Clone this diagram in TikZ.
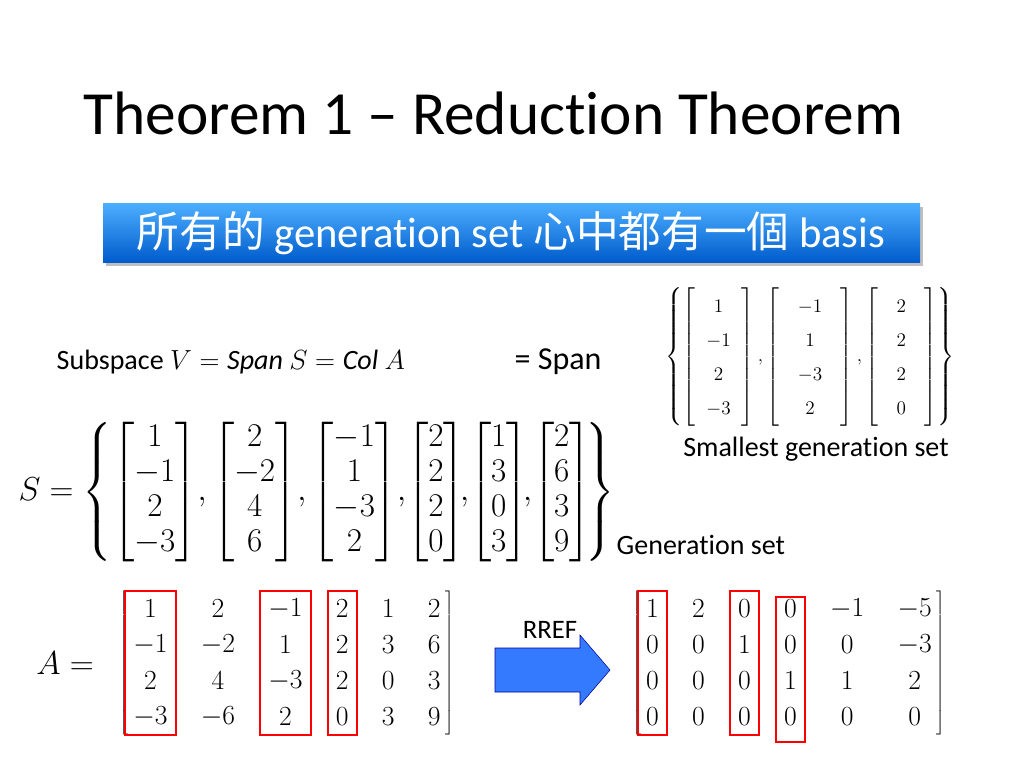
\documentclass[tikz,border=0pt]{standalone}
\usepackage{amsmath}
\usepackage{fontspec}
\setmainfont{Carlito}[Ligatures=NoCommon]
\newfontfamily\cjk{Noto Sans CJK TC}
\usetikzlibrary{matrix,fit}
\newcommand\padent[1]{\hspace{14pt}#1\hspace{14pt}}
\tikzset{
  redbox/.style={draw=red,line width=1.6pt,inner ysep=0pt,inner xsep=5pt},
  mat/.style={matrix of math nodes,left delimiter={[},right delimiter={]},
    nodes={minimum height=27pt,anchor=center,font=\fontsize{20}{22}\selectfont},
    column sep=23pt,inner sep=1pt}
}
\begin{document}
\begin{tikzpicture}[x=0.75pt,y=-0.75pt]
\useasboundingbox[fill=white] (0,0) rectangle (1024,768);
% title
\node[anchor=west,font=\fontsize{46}{50}\selectfont] (title) at (79,113) {Theorem 1 -- Reduction Theorem};
% banner
\fill[black!25] (106,207) rectangle (923,266);
\shade[top color=blue!45!cyan!70!white,bottom color=blue!55!cyan!80!black]
  (103,203) rectangle (920,262);
\node[text=white,font=\fontsize{32}{34}\selectfont] (banner) at (511,233)
  {{\cjk 所有的} generation set {\cjk 心中都有一個} basis};
% subspace line
\node[anchor=west,font=\fontsize{21}{23}\selectfont] (sub) at (52,362)
  {Subspace {\fontsize{21}{23}\selectfont$V=\mathit{Span}\ S=\mathit{Col}\ A$}};
\node[anchor=west,font=\fontsize{24}{26}\selectfont] (span) at (510,362) {= Span};
\node[font=\fontsize{15}{17}\selectfont] (basis) at (810,357)
  {$\renewcommand\arraystretch{1.5}\left\{\begin{bmatrix}\padent{1}\\-1\\2\\-3\end{bmatrix},\begin{bmatrix}\padent{-1}\\1\\-3\\2\end{bmatrix},\begin{bmatrix}\padent{2}\\2\\2\\0\end{bmatrix}\right\}$};
\node[font=\fontsize{21}{23}\selectfont] (small) at (816,449) {Smallest generation set};
% S
\node[font=\fontsize{23}{25}\selectfont] (S) at (317,492)
  {$S=\renewcommand\arraystretch{1.05}\left\{\begin{bmatrix}1\\-1\\2\\-3\end{bmatrix}\!,\begin{bmatrix}2\\-2\\4\\6\end{bmatrix}\!,\begin{bmatrix}-1\\1\\-3\\2\end{bmatrix}\!,\!\begin{bmatrix}2\\2\\2\\0\end{bmatrix}\!\!,\!\begin{bmatrix}1\\3\\0\\3\end{bmatrix}\!\!,\!\begin{bmatrix}2\\6\\3\\9\end{bmatrix}\!\right\}$};
\node[anchor=west,font=\fontsize{21}{23}\selectfont] (gen) at (612,545) {Generation set};
% A
\node[font=\fontsize{24}{26}\selectfont] (Alab) at (65,663) {$A=$};
\matrix[mat] (A) at (287,663) {
 1 & 2 & -1 & 2 & 1 & 2\\
 -1 & -2 & 1 & 2 & 3 & 6\\
 2 & 4 & -3 & 2 & 0 & 3\\
 -3 & -6 & 2 & 0 & 3 & 9\\
};
\node[redbox,fit=(A-1-1)(A-4-1)] (ra1) {};
\node[redbox,fit=(A-1-3)(A-4-3)] (ra3) {};
\node[redbox,fit=(A-1-4)(A-4-4)] (ra4) {};
% arrow
\fill[draw=blue!60!black,fill=blue!65!cyan!80!white] (495,648) -- (580,648) -- (580,635)
  -- (610,670) -- (580,705) -- (580,692) -- (495,692) -- cycle;
\node[font=\fontsize{20}{22}\selectfont] (rref) at (550,630) {RREF};
% R
\matrix[mat] (R) at (789,663) {
 1 & 2 & 0 & 0 & -1 & -5\\
 0 & 0 & 1 & 0 & 0 & -3\\
 0 & 0 & 0 & 1 & 1 & 2\\
 0 & 0 & 0 & 0 & 0 & 0\\
};
\node[redbox,fit=(R-1-1)(R-4-1)] (rr1) {};
\node[redbox,fit=(R-1-3)(R-4-3)] (rr3) {};
\node[redbox,fit=(R-1-4)(R-4-4),yshift=-5pt] (rr4) {};
\end{tikzpicture}
\end{document}
